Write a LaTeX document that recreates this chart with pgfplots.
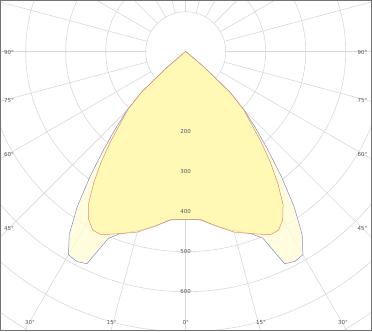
\documentclass[border=0pt]{standalone}
\usepackage{pgfplots}
\pgfplotsset{compat=1.18}
\usepackage{pgfplotstable}
\usepackage{fontspec}
\setmainfont{DejaVu Sans}
\definecolor{gridc}{RGB}{216,216,216}
\definecolor{fillB}{RGB}{255,253,210}
\definecolor{fillR}{RGB}{255,249,165}
\definecolor{lineB}{RGB}{135,135,210}
\definecolor{lineR}{RGB}{228,140,105}
\definecolor{labc}{RGB}{85,85,85}

% angle from the downward vertical (deg), intensity (cd)
\pgfplotstableread{
a r
-90 0
-60 2
-55 6
-50 60
-47.5 150
-45 208
-42.5 258
-40 318
-37.5 392
-35 472
-32.5 542
-30 586
-27.5 591
-25 585
-22.5 505
-20 485
-15 463
-10 442
-5 422
0 419
5 422
10 442
15 463
20 485
22.5 505
25 585
27.5 591
30 586
32.5 542
35 472
37.5 392
40 318
42.5 258
45 208
47.5 150
50 60
55 6
60 2
90 0
}\blueT

\pgfplotstableread{
a r
-90 0
-60 2
-55 6
-50 60
-47.5 150
-45 205
-42.5 240
-40 291
-37.5 347
-35 401
-32.5 453
-30 485
-27.5 503
-25 504
-22.5 494
-20 484
-15 467
-10 443
-5 421
0 419
5 421
10 443
15 467
20 484
22.5 494
25 504
27.5 503
30 485
32.5 453
35 401
37.5 347
40 291
42.5 240
45 205
47.5 150
50 60
55 6
60 2
90 0
}\redT

\begin{document}
\begin{tikzpicture}
\begin{axis}[
  x=0.4pt, y=0.4pt,
  xmin=-462.75, xmax=464.25, ymin=-696.75, ymax=127.75,
  ticks=none,
  axis on top,
  axis line style={draw=black!55, line width=1.2pt},
  clip=true,
]
\pgfplotsinvokeforeach{100,200,...,900}{
  \draw[gridc, line width=0.6pt] (axis cs:0,0) circle[radius=#1];
}
\pgfplotsinvokeforeach{0,15,...,345}{
  \draw[gridc, line width=0.6pt] (axis cs:{100*cos(#1)},{100*sin(#1)}) -- (axis cs:{1000*cos(#1)},{1000*sin(#1)});
}
\addplot[data cs=polar, fill=fillB, fill opacity=0.75, draw=lineB, line width=0.5pt]
  table[x expr=\thisrow{a}+270, y=r] {\blueT} -- cycle;
\addplot[data cs=polar, fill=fillR, fill opacity=0.7, draw=lineR, line width=0.5pt]
  table[x expr=\thisrow{a}+270, y=r] {\redT} -- cycle;
\begin{scope}[every node/.style={font=\fontsize{5.5}{6}\selectfont, text=labc, inner sep=0.5pt}]
\node at (axis cs:-442,-1.5) {90°};
\node at (axis cs:-442,-121) {75°};
\node at (axis cs:-442,-256) {60°};
\node at (axis cs:-442,-441.5) {45°};
\node at (axis cs:442,-1.5) {90°};
\node at (axis cs:442,-121) {75°};
\node at (axis cs:442,-256) {60°};
\node at (axis cs:442,-441.5) {45°};
\node at (axis cs:-389,-677.5) {30°};
\node at (axis cs:-185,-677.5) {15°};
\node at (axis cs:0,-677.5) {0°};
\node at (axis cs:188,-677.5) {15°};
\node at (axis cs:393,-677.5) {30°};
\node at (axis cs:0,-200) {200};
\node at (axis cs:0,-300) {300};
\node at (axis cs:0,-400) {400};
\node at (axis cs:0,-500) {500};
\node at (axis cs:0,-600) {600};
\end{scope}
\end{axis}
\end{tikzpicture}
\end{document}
